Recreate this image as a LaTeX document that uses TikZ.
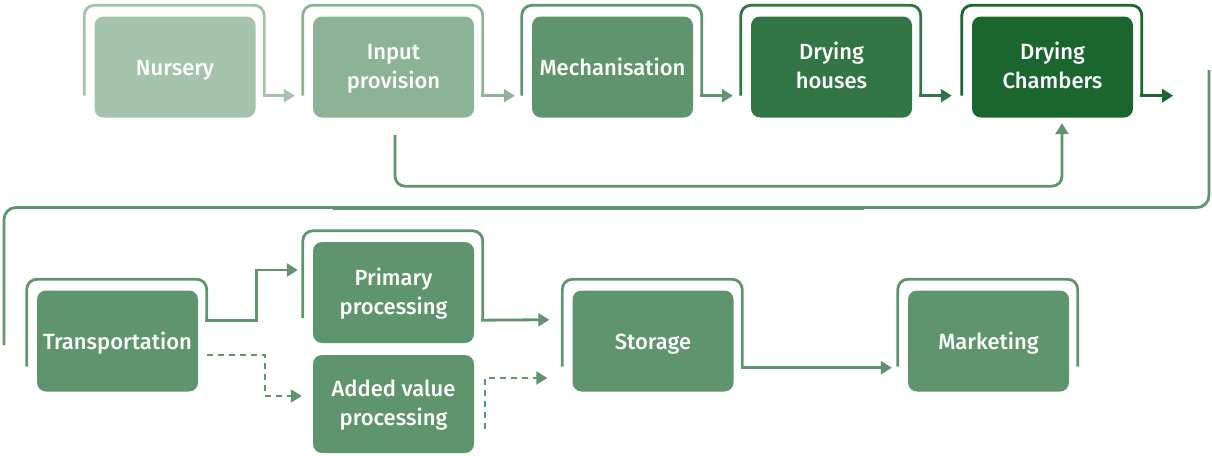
\documentclass[tikz,border=0pt]{standalone}
\usepackage{fontspec}
\setmainfont{Fira Sans}[UprightFont={* Medium}]
\usetikzlibrary{arrows.meta,calc}
\definecolor{cA}{HTML}{A4C3AB}
\definecolor{cB}{HTML}{8CB395}
\definecolor{cC}{HTML}{5E956C}
\definecolor{cD}{HTML}{317644}
\definecolor{cE}{HTML}{1B652E}
\tikzset{
  stagebox/.style={rectangle, rounded corners=9pt, fill=#1, draw=none, text=white,
    minimum width=161pt, minimum height=101pt, inner sep=0pt, align=center,
    font=\fontsize{22}{29}\selectfont, execute at begin node={\rule{0pt}{22pt}},
    execute at end node={\rule[-6pt]{0pt}{6pt}}},
  twoline/.style={execute at begin node={\rule{0pt}{49.5pt}}},
  fr/.style={draw=#1, line width=2.8pt, rounded corners=10pt},
  arr/.style={draw=#1, line width=2.8pt, -{Triangle[length=11pt,width=13pt]}},
  dasharr/.style={draw=#1, line width=2pt, dash pattern=on 6pt off 5pt, -{Triangle[length=11pt,width=13pt]}},
  plain/.style={draw=#1, line width=2.8pt},
}
\newcommand\stageframe[4]{%
  \draw[fr=#2] ($(#1.south west)+(-10,#3)$) -- ($(#1.north west)+(-10,-11)$)
    -- ($(#1.north east)+(8.5,-11)$) -- ($(#1.south east)+(8.5,#4)$);}
\begin{document}
\begin{tikzpicture}[x=1pt,y=-1pt]
\useasboundingbox (0,0) rectangle (1212,455);
% top row
\node[stagebox=cA] (nur) at (175,67) {Nursery};
\node[stagebox=cB, twoline] (inp) at (393.5,67) {Input\\provision};
\node[stagebox=cC] (mec) at (612.5,67) {Mechanisation};
\node[stagebox=cD, twoline] (dh) at (831.5,67) {Drying\\houses};
\node[stagebox=cE, twoline] (ch) at (1052.5,67) {Drying\\Chambers};
% bottom row
\node[stagebox=cC] (tr) at (117.5,341) {Transportation};
\node[stagebox=cC, twoline] (pr) at (393.5,292.5) {Primary\\processing};
\node[stagebox=cC, twoline, minimum height=98pt] (av) at (393.5,404) {Added value\\processing};
\node[stagebox=cC] (st) at (653,341) {Storage};
\node[stagebox=cC] (mk) at (988.5,341) {Marketing};
% frames
\stageframe{nur}{cA}{-22}{-22}
\stageframe{inp}{cB}{-22}{-22}
\stageframe{mec}{cC}{-22}{-22}
\stageframe{dh}{cD}{-22}{-22}
\stageframe{ch}{cE}{-22}{-22}
\stageframe{tr}{cC}{-25}{-71}
\stageframe{pr}{cC}{-25}{-23}
\stageframe{st}{cC}{-25}{-24}
\stageframe{mk}{cC}{-25}{-25}
% top row arrows
\draw[arr=cA] ($(nur.south east)+(7,-22)$) -- ($(inp.south west)+(-18,-22)$);
\draw[arr=cB] ($(inp.south east)+(7,-22)$) -- ($(mec.south west)+(-17,-22)$);
\draw[arr=cC] ($(mec.south east)+(7,-22)$) -- ($(dh.south west)+(-18,-22)$);
\draw[arr=cD] ($(dh.south east)+(7,-22)$) -- ($(ch.south west)+(-20,-22)$);
\coordinate (chend) at ($(ch.south east)+(40,-22)$);
\draw[arr=cE] ($(ch.south east)+(7,-22)$) -- (chend);
% input -> chambers
\draw[arr=cC, rounded corners=10pt] ($(inp.south)+(1.5,17.5)$) |- ($(ch.south)+(9.5,68.5)$) -- ($(ch.south)+(9.5,5.5)$);
% long return line
\coordinate (ls) at (1209,70);
\coordinate (lc) at (4,207.5);
\coordinate (le) at (4,345);
\draw[plain=cC, rounded corners=12pt] (ls) |- (lc) -- (le);
\draw[draw=cC, line width=4.2pt] (333,208) -- (864,208);
% bottom row connectors
\coordinate (tA) at ($(tr.south east)+(7,-71)$);
\coordinate (tB) at ($(pr.west)+(-15,-22.5)$);
\draw[arr=cC] (tA) -| ($(tB)+(-41,0)$) -- (tB);
\draw[arr=cC] ($(pr.south east)+(7,-23)$) -- ($(st.south west)+(-23,-72)$);
\coordinate (dA) at ($(tr.east)+(9,14)$);
\coordinate (dB) at ($(av.west)+(-11,-8)$);
\draw[dasharr=cC] (dA) -| ($(dB)+(-37,0)$) -- (dB);
\draw[dasharr=cC] ($(av.east)+(11,25)$) |- ($(st.west)+(-25,37)$);
\draw[arr=cC] ($(st.south east)+(7,-24)$) -- ($(mk.south west)+(-16,-24)$);
\end{tikzpicture}
\end{document}
